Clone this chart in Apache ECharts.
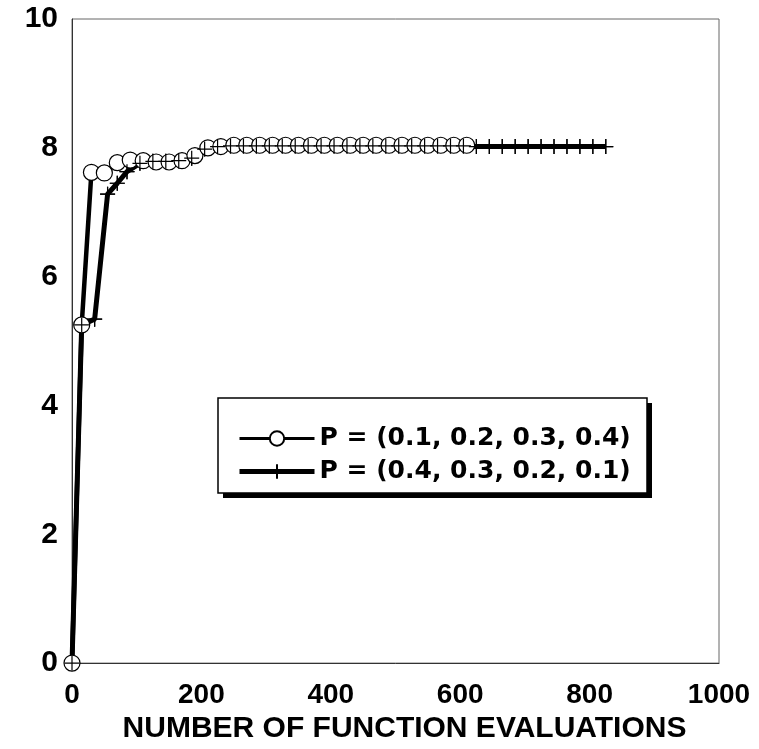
<!DOCTYPE html>
<html>
<head>
<meta charset="utf-8">
<script src="https://cdn.jsdelivr.net/npm/echarts@6/dist/echarts.min.js"></script>
<style>
html,body{margin:0;padding:0;background:#fff;}
#chart{width:759px;height:749px;}
</style>
</head>
<body>
<div id="chart"></div>
<script>
// ---- data ----
var seriesNames = ['P = (0.1, 0.2, 0.3, 0.4)', 'P = (0.4, 0.3, 0.2, 0.1)'];
var circleX = [0,15,30,50,70,90,110,130,150,170,190,210,230,250,270,290,310,330,350,370,390,410,430,450,470,490,510,530,550,570,590,610];
var circleY = [0,5.25,7.62,7.61,7.77,7.81,7.8,7.78,7.78,7.8,7.88,8.0,8.02,8.04,8.04,8.04,8.04,8.04,8.04,8.04,8.04,8.04,8.04,8.04,8.04,8.04,8.04,8.04,8.04,8.04,8.04,8.04];
var crossX = [0,15,35,55,70,85,105,125,145,165,185,205,225,245,265,285,305,325,345,365,385,405,425,445,465,485,505,525,545,565,585,605,625,645,665,685,705,725,745,765,785,805,825];
var crossY = [0,5.25,5.34,7.28,7.45,7.63,7.76,7.79,7.79,7.8,7.84,7.98,8.02,8.03,8.03,8.03,8.03,8.03,8.03,8.03,8.03,8.03,8.03,8.03,8.03,8.03,8.03,8.03,8.03,8.03,8.03,8.03,8.02,8.02,8.02,8.02,8.02,8.02,8.02,8.02,8.02,8.02,8.02];
var xTicks = {min: 0, max: 1000, interval: 200};
var yTicks = {min: 0, max: 10, interval: 2};
var xTitle = 'NUMBER OF FUNCTION EVALUATIONS';

function pairs(xs, ys){ return xs.map(function(x,i){ return [x, ys[i]]; }); }
var crossPath = 'path://M10,0L10,20M0,10L20,10';

var chart = echarts.init(document.getElementById('chart'), null, {renderer:'canvas'});
chart.setOption({
  animation: false,
  backgroundColor: '#fff',
  grid: {left: 72, right: 40, top: 19, bottom: 83, show: true, borderColor: '#666', borderWidth: 1, backgroundColor: 'transparent'},
  xAxis: {
    type: 'value', min: xTicks.min, max: xTicks.max, interval: xTicks.interval,
    axisLine: {show: true, lineStyle: {color: '#333', width: 1}},
    axisTick: {show: false}, splitLine: {show: false},
    axisLabel: {margin: 18, color: '#000', fontSize: 28, fontWeight: 'bold', fontFamily: "'Liberation Sans', Arial, sans-serif",
      formatter: function(v){ return String(v); }},
    name: xTitle, nameLocation: 'middle', nameGap: 48,
    nameTextStyle: {color: '#000', fontSize: 30, fontWeight: 'bold', fontFamily: "'Liberation Sans', Arial, sans-serif", padding: [0,0,0,18]}
  },
  yAxis: {
    type: 'value', min: yTicks.min, max: yTicks.max, interval: yTicks.interval,
    axisLine: {show: true, lineStyle: {color: '#333', width: 1}},
    axisTick: {show: false}, splitLine: {show: false},
    axisLabel: {margin: 14, color: '#000', fontSize: 30, fontWeight: 'bold', fontFamily: "'Liberation Sans', Arial, sans-serif"}
  },
  graphic: [
    {type: 'rect', z: 5, shape: {x: 223, y: 403, width: 429, height: 95}, style: {fill: '#000'}},
    {type: 'rect', z: 5, shape: {x: 218, y: 398, width: 429, height: 95}, style: {fill: '#fff', stroke: '#000', lineWidth: 1.5}}
  ],
  legend: {
    z: 10, orient: 'vertical', left: 232, top: 421,
    itemWidth: 75, itemHeight: 18, itemGap: 8,
    data: [
      {name: seriesNames[0], lineStyle: {width: 3, color: '#000'}},
      {name: seriesNames[1], lineStyle: {width: 5, color: '#000'}}
    ],
    textStyle: {color: '#000', fontSize: 25, fontWeight: 'bold', fontFamily: "'DejaVu Sans', sans-serif"}
  },
  series: [
    {
      name: seriesNames[1], type: 'line', z: 2, data: pairs(crossX, crossY),
      symbol: crossPath, symbolSize: 15,
      itemStyle: {color: '#000', borderColor: '#000', borderWidth: 1.2},
      lineStyle: {color: '#000', width: 5}
    },
    {
      name: seriesNames[0], type: 'line', z: 3, data: pairs(circleX, circleY),
      symbol: 'circle', symbolSize: 16,
      itemStyle: {color: '#fff', borderColor: '#000', borderWidth: 1.2},
      lineStyle: {color: '#000', width: 4.5}
    },
    {
      name: 'crossMarks', type: 'line', z: 4, data: pairs(crossX, crossY),
      symbol: crossPath, symbolSize: 15, silent: true,
      itemStyle: {color: '#000', borderColor: '#000', borderWidth: 1.2},
      lineStyle: {width: 0, opacity: 0}
    }
  ]
});
</script>
</body>
</html>
